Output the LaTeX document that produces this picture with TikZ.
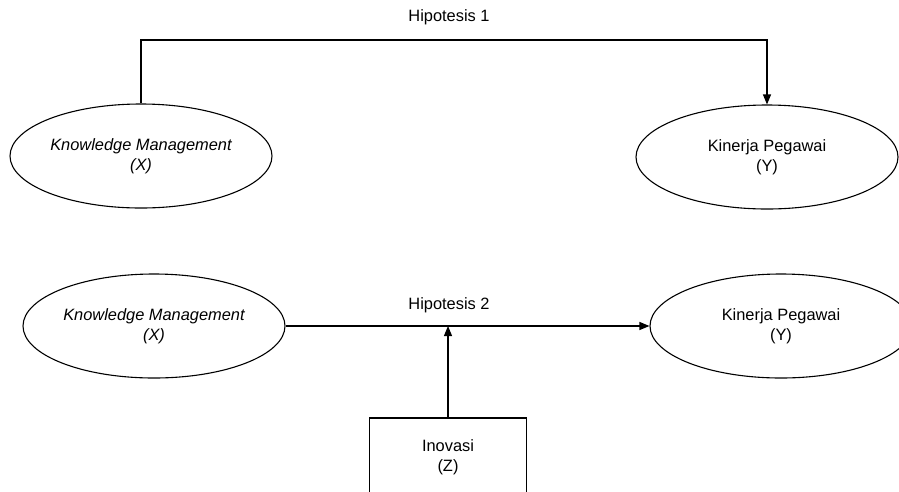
\documentclass[tikz,border=0pt]{standalone}
\usepackage{fontspec}
\setmainfont{Liberation Sans}
\usetikzlibrary{shapes.geometric,arrows.meta}
\begin{document}
\begin{tikzpicture}[x=1pt,y=-1pt,
  lbl/.style={font=\fontsize{16.4}{19.7}\selectfont, align=center, text=black},
  ell/.style={lbl, draw=black, line width=1.1pt, ellipse, inner sep=0pt, minimum width=262pt, minimum height=104pt},
  boxn/.style={lbl, draw=black, line width=1.1pt, rectangle, inner sep=0pt, minimum width=157pt, minimum height=78pt},
  conn/.style={draw=black, line width=1.1pt},
  arr/.style={conn, -{Triangle[length=10pt,width=8pt]}}]
\useasboundingbox (0,0) rectangle (899,491);
\fill[white] (0,0) rectangle (899,491);

\node[ell, font=\fontsize{16.4}{19.7}\selectfont\itshape] (km1) at (141,156) {Knowledge Management\\(X)};
\node[ell] (kp1) at (767,157) {Kinerja Pegawai\\(Y)};
\node[ell, font=\fontsize{16.4}{19.7}\selectfont\itshape] (km2) at (154,326) {Knowledge Management\\(X)};
\node[ell] (kp2) at (781,326) {Kinerja Pegawai\\(Y)};
\node[boxn] (inov) at (448,457) {Inovasi\\(Z)};

\coordinate (c1) at (141,40);
\coordinate (c2) at (767,40);
\draw[arr] (km1.north) -- (c1) -- (c2) -- (kp1.north);
\node[lbl] (h1) at (449,17) {Hipotesis 1};

\draw[arr] (km2.east) -- (kp2.west);
\node[lbl] (h2) at (449,305) {Hipotesis 2};

\coordinate (mid) at (inov.north |- km2.east);
\draw[arr] (inov.north) -- (mid);
\end{tikzpicture}
\end{document}
